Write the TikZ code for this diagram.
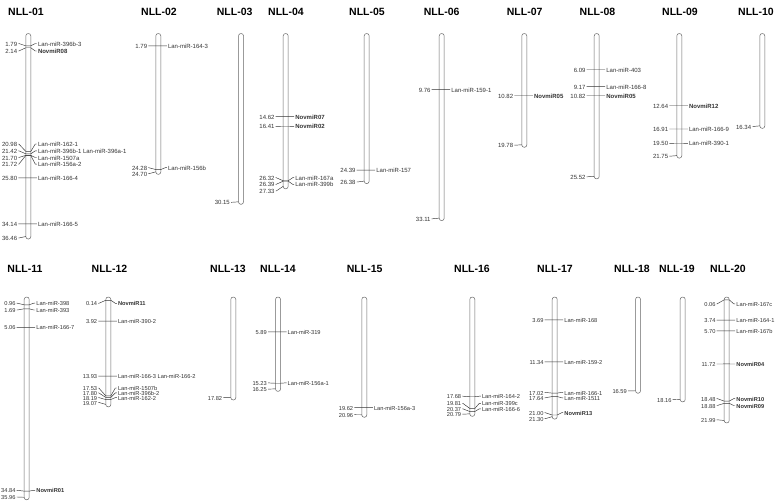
\documentclass[tikz,border=0pt]{standalone}
\usepackage{fontspec}
\setmainfont{Liberation Sans}
\definecolor{ink}{HTML}{333333}
\definecolor{barc}{HTML}{666666}
\newcommand\lblfont{\fontsize{6}{7}\selectfont}
\newcommand\chr[3]{%
  \pgfmathsetmacro\mkyb{#2+5.5*#3+2.5}%
  \draw[bar] (#1-2.5,#2-2.5) rectangle (#1+2.5,\mkyb);%
}
\newcommand\mk[6][]{%
  \pgfmathsetmacro\mkpy{#3+5.5*#4}%
  \node[num,anchor=mid east] at (#2-11,#5) {#4};%
  \draw[tick] (#2-10,#5) -- (#2-9.5,#5) -- (#2-2.5,\mkpy) -- (#2+2.5,\mkpy) -- (#2+7,#5) -- (#2+8.5,#5);%
  \node[lab,anchor=mid west] at (#2+9.5,#5) {#1#6};%
}
\newcommand\ed[4]{%
  \pgfmathsetmacro\mkpy{#2+5.5*#3}%
  \node[num,anchor=mid east] at (#1-11,#4) {#3};%
  \draw[tick] (#1-10,#4) -- (#1-9.5,#4) -- (#1-2.5,\mkpy);%
}
\tikzset{
  bar/.style={draw=barc, line width=0.5pt, fill=white, rounded corners=2.4pt},
  tick/.style={draw=ink, line width=0.45pt},
  num/.style={inner sep=0pt, text=ink, font=\lblfont},
  lab/.style={inner sep=0pt, text=ink, font=\lblfont},
  ttl/.style={inner sep=0pt, anchor=base, font=\bfseries\fontsize{10.5}{12}\selectfont, text=black},
}
\begin{document}
\begin{tikzpicture}[x=1pt,y=-1pt]
\useasboundingbox[fill=white] (0,0) rectangle (778,501);
% ---------- titles ----------
\node[ttl] (t01) at (26,15) {NLL-01};
\node[ttl] (t02) at (159,15) {NLL-02};
\node[ttl] (t03) at (234.7,15) {NLL-03};
\node[ttl] (t04) at (286,15) {NLL-04};
\node[ttl] (t05) at (367,15) {NLL-05};
\node[ttl] (t06) at (441.7,15) {NLL-06};
\node[ttl] (t07) at (524.7,15) {NLL-07};
\node[ttl] (t08) at (597.5,15) {NLL-08};
\node[ttl] (t09) at (680,15) {NLL-09};
\node[ttl] (t10) at (756,15) {NLL-10};
\node[ttl] (t11) at (25,272.5) {NLL-11};
\node[ttl] (t12) at (109.5,272.5) {NLL-12};
\node[ttl] (t13) at (228,272.5) {NLL-13};
\node[ttl] (t14) at (278,272.5) {NLL-14};
\node[ttl] (t15) at (364.7,272.5) {NLL-15};
\node[ttl] (t16) at (472,272.5) {NLL-16};
\node[ttl] (t17) at (555,272.5) {NLL-17};
\node[ttl] (t18) at (632,272.5) {NLL-18};
\node[ttl] (t19) at (677,272.5) {NLL-19};
\node[ttl] (t20) at (728,272.5) {NLL-20};
% ---------- top row ----------
\chr{28.3}{36}{36.46}
\mk{28.3}{36}{1.79}{43.5}{Lan-miR-396b-3}
\mk[\bfseries]{28.3}{36}{2.14}{51}{NovmiR08}
\mk{28.3}{36}{20.98}{144}{Lan-miR-162-1}
\mk{28.3}{36}{21.42}{150.8}{Lan-miR-396b-1 Lan-miR-396a-1}
\mk{28.3}{36}{21.70}{157.5}{Lan-miR-1507a}
\mk{28.3}{36}{21.72}{164.2}{Lan-miR-156a-2}
\mk{28.3}{36}{25.80}{177.9}{Lan-miR-166-4}
\mk{28.3}{36}{34.14}{223.8}{Lan-miR-166-5}
\ed{28.3}{36}{36.46}{238}
\chr{158.3}{36}{24.70}
\mk{158.3}{36}{1.79}{45.8}{Lan-miR-164-3}
\mk{158.3}{36}{24.28}{167.7}{Lan-miR-156b}
\ed{158.3}{36}{24.70}{173.7}
\chr{241}{36}{30.15}
\ed{241}{36}{30.15}{202.3}
\chr{285.7}{36}{27.33}
\mk[\bfseries]{285.7}{36}{14.62}{116.4}{NovmiR07}
\mk[\bfseries]{285.7}{36}{16.41}{126.3}{NovmiR02}
\mk{285.7}{36}{26.32}{177.7}{Lan-miR-167a}
\mk{285.7}{36}{26.39}{184.3}{Lan-miR-399b}
\ed{285.7}{36}{27.33}{191}
\chr{366.7}{36}{26.38}
\mk{366.7}{36}{24.39}{170.1}{Lan-miR-157}
\ed{366.7}{36}{26.38}{182}
\chr{441.7}{36}{33.11}
\mk{441.7}{36}{9.76}{89.7}{Lan-miR-159-1}
\ed{441.7}{36}{33.11}{218.8}
\chr{524.3}{36}{19.78}
\mk[\bfseries]{524.3}{36}{10.82}{95.5}{NovmiR05}
\ed{524.3}{36}{19.78}{145.2}
\chr{596.7}{36}{25.52}
\mk{596.7}{36}{6.09}{69.5}{Lan-miR-403}
\mk{596.7}{36}{9.17}{86.4}{Lan-miR-166-8}
\mk[\bfseries]{596.7}{36}{10.82}{95.5}{NovmiR05}
\ed{596.7}{36}{25.52}{176.8}
\chr{679.3}{36}{21.75}
\mk[\bfseries]{679.3}{36}{12.64}{105.5}{NovmiR12}
\mk{679.3}{36}{16.91}{129}{Lan-miR-166-9}
\mk{679.3}{36}{19.50}{143.3}{Lan-miR-390-1}
\ed{679.3}{36}{21.75}{156.2}
\chr{762.3}{36}{16.34}
\ed{762.3}{36}{16.34}{126.5}
% ---------- bottom row ----------
\renewcommand\lblfont{\fontsize{5.7}{6.5}\selectfont}
\chr{26.7}{299.5}{35.96}
\mk{26.7}{299.5}{0.96}{303.2}{Lan-miR-398}
\mk{26.7}{299.5}{1.69}{310}{Lan-miR-393}
\mk{26.7}{299.5}{5.06}{327.3}{Lan-miR-166-7}
\mk[\bfseries]{26.7}{299.5}{34.84}{490.3}{NovmiR01}
\ed{26.7}{299.5}{35.96}{497}
\chr{108.3}{299.5}{19.07}
\mk[\bfseries]{108.3}{299.5}{0.14}{303.3}{NovmiR11}
\mk{108.3}{299.5}{3.92}{321.1}{Lan-miR-390-2}
\mk{108.3}{299.5}{13.93}{376.1}{Lan-miR-166-3 Lan-miR-166-2}
\mk{108.3}{299.5}{17.53}{388}{Lan-miR-1507b}
\mk{108.3}{299.5}{17.80}{392.9}{Lan-miR-396b-2}
\mk{108.3}{299.5}{18.19}{397.6}{Lan-miR-162-2}
\ed{108.3}{299.5}{19.07}{402.4}
\chr{233.3}{299.5}{17.82}
\ed{233.3}{299.5}{17.82}{397.6}
\chr{278}{299.5}{16.25}
\mk{278}{299.5}{5.89}{331.9}{Lan-miR-319}
\mk{278}{299.5}{15.23}{382.9}{Lan-miR-156a-1}
\ed{278}{299.5}{16.25}{389.1}
\chr{364.3}{299.5}{20.96}
\mk{364.3}{299.5}{19.62}{407.4}{Lan-miR-156a-3}
\ed{364.3}{299.5}{20.96}{414.7}
\chr{472.3}{299.5}{20.79}
\mk{472.3}{299.5}{17.68}{396.2}{Lan-miR-164-2}
\mk{472.3}{299.5}{19.81}{403.3}{Lan-miR-399c}
\mk{472.3}{299.5}{20.37}{408.8}{Lan-miR-166-6}
\ed{472.3}{299.5}{20.79}{414.2}
\chr{554.7}{299.5}{21.30}
\mk{554.7}{299.5}{3.69}{319.8}{Lan-miR-168}
\mk{554.7}{299.5}{11.34}{361.9}{Lan-miR-159-2}
\mk{554.7}{299.5}{17.02}{392.4}{Lan-miR-166-1}
\mk{554.7}{299.5}{17.64}{397.8}{Lan-miR-1511}
\mk[\bfseries]{554.7}{299.5}{21.00}{412.7}{NovmiR13}
\ed{554.7}{299.5}{21.30}{418.7}
\chr{638}{299.5}{16.59}
\ed{638}{299.5}{16.59}{390.9}
\chr{682.7}{299.5}{18.16}
\ed{682.7}{299.5}{18.16}{399.6}
\chr{726.7}{299.5}{21.99}
\mk{726.7}{299.5}{0.06}{303.8}{Lan-miR-167c}
\mk{726.7}{299.5}{3.74}{320.1}{Lan-miR-164-1}
\mk{726.7}{299.5}{5.70}{330.9}{Lan-miR-167b}
\mk[\bfseries]{726.7}{299.5}{11.72}{364}{NovmiR04}
\mk[\bfseries]{726.7}{299.5}{18.48}{398.6}{NovmiR10}
\mk[\bfseries]{726.7}{299.5}{18.88}{405.5}{NovmiR09}
\ed{726.7}{299.5}{21.99}{419.8}
\end{tikzpicture}
\end{document}
